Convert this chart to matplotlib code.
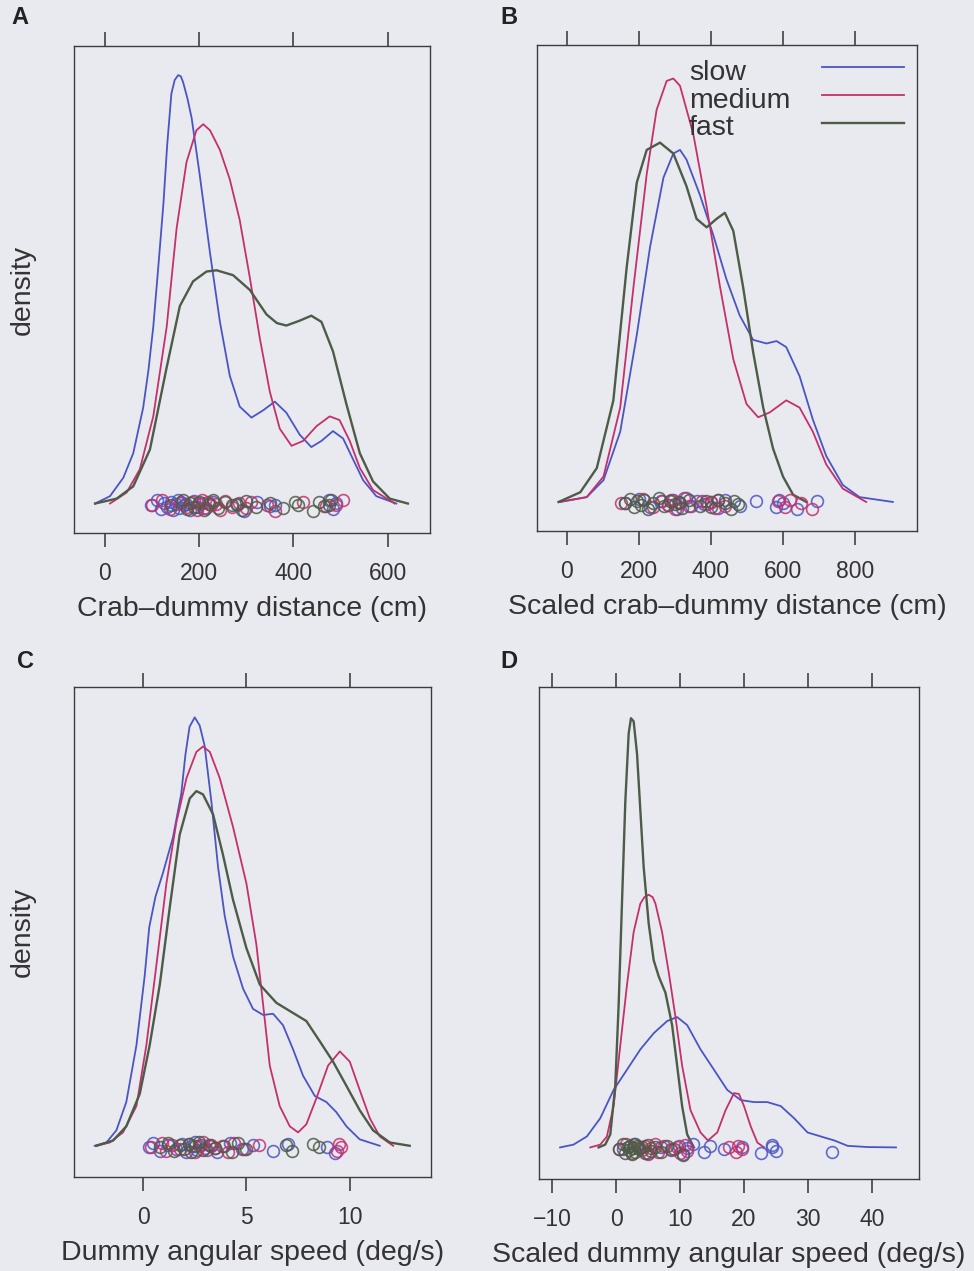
import matplotlib
matplotlib.use('Agg')
import matplotlib.pyplot as plt
from matplotlib.lines import Line2D

plt.rcParams['font.family'] = ['Liberation Sans', 'DejaVu Sans']

# ---------------- data ----------------
groups = ['slow', 'medium', 'fast']

# Panel A: Crab-dummy distance (cm); density curves (arbitrary density units)
a_slow_x = [-21, 10.6, 38.9, 60, 81, 92, 102.5, 113, 124, 132, 141, 148, 155.5, 161, 166, 175, 184, 201, 223, 244, 265, 286, 311, 336, 360.5, 385, 413.6, 438, 459.5, 484, 505.5, 526.7, 548, 576, 618.6]
a_slow_y = [0, 6, 21, 41, 78, 108, 144, 192, 244, 292, 334, 345, 349, 348, 343, 330, 314, 268, 204, 148, 104, 79, 70, 76, 83, 74, 56, 46, 51, 59, 53, 36, 19, 6, 0]
a_med_x = [10.6, 46, 74, 102.5, 131, 152, 173, 194, 208.6, 223, 244, 265, 286, 307.5, 329, 350, 371, 396, 420.6, 449, 477, 498, 519.6, 541, 569, 615]
a_med_y = [0, 9, 28, 71, 144, 224, 278, 304, 309, 304, 288, 264, 231, 184, 134, 91, 61, 47, 51, 63, 71, 68, 51, 29, 11, 0]
a_fast_x = [-21, 24.7, 60, 95.4, 131, 159, 187, 215.6, 237, 272, 307.5, 343, 365, 385, 413.6, 438, 459.5, 484, 512.5, 541, 569, 604.5, 643]
a_fast_y = [0, 4, 14, 44, 111, 161, 181, 189, 190, 186, 174, 154, 147, 145, 149, 153, 148, 124, 81, 41, 18, 4, 0]
a_slow_pts = [97, 110, 118, 125, 132, 140, 145, 150, 155, 158, 162, 168, 172, 180, 188, 195, 205, 215, 230, 280, 295, 322, 350, 360, 475, 485, 490]
a_med_pts = [100, 120, 138, 160, 175, 185, 195, 200, 205, 210, 218, 225, 235, 245, 255, 270, 285, 300, 310, 343, 360, 420, 470, 490, 505]
a_fast_pts = [140, 165, 175, 180, 190, 200, 210, 220, 230, 240, 255, 270, 280, 290, 300, 320, 350, 378, 403, 410, 442, 455, 465, 475, 480]

# Panel B: Scaled crab-dummy distance (cm)
b_slow_x = [-18, 55, 101.6, 148, 194, 231, 268, 295.5, 314, 332, 369, 406, 443, 480, 517, 554, 582, 609, 646, 683, 720, 766, 812.5, 905]
b_slow_y = [0, 4, 18, 58, 138, 211, 268, 288, 291, 283, 254, 221, 184, 154, 134, 131, 133, 128, 104, 68, 38, 14, 4, 0]
b_med_x = [-23, 55, 101.6, 148, 185, 221.6, 249, 277, 295.5, 314, 351, 388, 425, 462, 498.6, 531, 563, 609, 646, 683, 720, 766, 831]
b_med_y = [0, 4, 21, 78, 178, 271, 324, 348, 350, 344, 304, 244, 178, 118, 81, 70, 74, 84, 78, 58, 31, 11, 0]
b_fast_x = [-23, 37, 83, 129, 166, 194, 221.6, 258.5, 295.5, 332, 360, 388, 415.5, 438.6, 462, 489, 517, 545, 572.5, 600, 628, 665]
b_fast_y = [0, 8, 28, 84, 194, 264, 291, 297, 288, 261, 234, 227, 234, 239, 224, 178, 124, 78, 44, 21, 6, 0]
b_slow_pts = [160, 200, 230, 260, 280, 295, 305, 315, 330, 345, 360, 380, 400, 420, 440, 480, 525, 580, 590, 600, 640, 695]
b_med_pts = [150, 210, 240, 265, 280, 290, 300, 310, 325, 340, 375, 390, 400, 410, 420, 440, 585, 605, 620, 650, 680]
b_fast_pts = [160, 175, 185, 195, 205, 215, 225, 240, 255, 270, 285, 300, 310, 320, 340, 370, 385, 400, 420, 440, 455, 465, 475]

# Panel C: Dummy angular speed (deg/s)
c_slow_x = [-2.34, -1.77, -1.29, -0.81, -0.32, 0.08, 0.3, 0.6, 0.97, 1.45, 1.85, 2.05, 2.25, 2.5, 2.74, 2.98, 3.31, 3.63, 3.95, 4.35, 4.84, 5.32, 5.81, 6.29, 6.77, 7.26, 7.74, 8.31, 8.87, 9.35, 9.84, 10.48, 11.45]
c_slow_y = [0, 2.7, 12.7, 36, 82.7, 140, 180, 205, 225, 254, 290, 322, 345, 352.7, 346, 329.3, 282.7, 229.3, 189.3, 156, 129.3, 112.7, 107.7, 108.7, 99.3, 79.3, 57.7, 41, 36, 27.7, 16, 5.3, 0]
c_med_x = [-2.26, -1.61, -0.97, -0.32, 0.16, 0.65, 1.13, 1.61, 2.10, 2.58, 2.90, 3.23, 3.71, 4.35, 5.0, 5.48, 5.81, 6.13, 6.61, 7.10, 7.5, 7.90, 8.39, 8.95, 9.52, 10.0, 10.48, 10.97, 11.45, 12.1]
c_med_y = [0, 2.7, 11, 32.7, 82.7, 149.3, 216, 266, 302.7, 324.3, 328.7, 324.3, 302.7, 262.7, 216, 166, 116, 66, 32.7, 16, 11, 17.7, 39.3, 66, 77.7, 69.3, 46, 22.7, 7.7, 0]
c_fast_x = [-2.26, -1.45, -0.81, -0.16, 0.32, 0.81, 1.29, 1.77, 2.26, 2.58, 2.90, 3.39, 3.87, 4.35, 5.0, 5.65, 6.45, 7.26, 7.90, 8.55, 9.19, 9.84, 10.48, 11.13, 11.94, 12.9]
c_fast_y = [0, 4.3, 16, 42.7, 82.7, 132.7, 196, 256, 286, 292, 289.3, 272.7, 239.3, 202.7, 162.7, 132.7, 117.7, 109.3, 102.7, 86, 69.3, 49.3, 29.3, 12.7, 2.7, 0]
c_slow_pts = [0.3, 0.5, 0.8, 1.2, 1.6, 1.9, 2.1, 2.3, 2.5, 2.6, 2.8, 3.0, 3.3, 3.6, 4.2, 4.8, 5.3, 6.3, 7.0, 8.9, 9.3]
c_med_pts = [0.4, 0.9, 1.1, 1.4, 1.8, 2.2, 2.5, 2.7, 2.9, 3.1, 3.3, 3.5, 3.8, 4.1, 4.4, 4.9, 5.6, 9.4, 9.5, 9.6]
c_fast_pts = [0.8, 1.2, 1.5, 1.8, 2.0, 2.2, 2.3, 2.5, 2.7, 2.9, 3.2, 3.5, 3.9, 4.3, 4.6, 5.0, 6.9, 7.2, 8.2, 8.5]

# Panel D: Scaled dummy angular speed (deg/s)
d_slow_x = [-8.80, -6.70, -4.61, -2.51, -0.42, 1.68, 3.77, 5.86, 7.96, 9.53, 11.10, 13.19, 15.29, 17.38, 19.48, 21.57, 23.66, 25.76, 27.85, 29.95, 32.04, 34.14, 36.23, 39.37, 43.8]
d_slow_y = [0, 2.3, 9, 24, 47.3, 64, 80.7, 94, 104, 107.3, 100.7, 80.7, 64, 47.3, 39, 37.3, 37.3, 34, 24, 12.3, 9, 5.7, 1.3, 0.3, 0]
d_med_x = [-4.08, -2.51, -1.47, -0.42, 0.63, 1.68, 2.72, 3.77, 4.4, 5.08, 5.7, 6.13, 7.17, 8.22, 9.27, 10.31, 11.62, 13.19, 14.35, 15.81, 17.12, 18.43, 19.21, 20.0, 21.05, 22.09, 23.14]
d_med_y = [0, 2.3, 9, 34, 84, 134, 177.3, 200.7, 206, 208, 206, 200.7, 177.3, 144, 107.3, 67.3, 30.7, 12.3, 5.7, 12.3, 30.7, 44.7, 44, 34, 17.3, 4, 0]
d_fast_x = [-2.77, -1.73, -0.94, -0.16, 0.37, 0.89, 1.41, 1.94, 2.30, 2.72, 3.25, 3.77, 4.29, 5.08, 5.86, 6.65, 7.70, 8.74, 9.53, 10.31, 11.10, 12.15]
d_fast_y = [0, 2.3, 10.7, 50.7, 117.3, 200.7, 284, 340.7, 353.3, 350.7, 324, 277.3, 230.7, 184, 154, 140.7, 127.3, 100.7, 67.3, 34, 10.7, 0]
d_slow_pts = [1.0, 3.0, 5.0, 7.0, 8.5, 9.8, 10.5, 11.0, 12.0, 13.7, 14.7, 16.9, 19.7, 22.6, 24.4, 25.0, 24.4, 33.8]
d_med_pts = [0.5, 1.5, 2.5, 3.5, 4.0, 4.5, 5.0, 5.5, 6.0, 6.5, 7.5, 8.5, 9.5, 10.0, 10.8, 11.0, 17.6, 18.7, 19.0, 19.7]
d_fast_pts = [0.5, 1.0, 1.4, 1.8, 2.0, 2.2, 2.4, 2.6, 2.8, 3.0, 3.3, 3.6, 4.0, 4.5, 5.0, 5.5, 6.0, 7.0, 8.0, 9.0, 10.5]

# vertical jitter offsets of the rug circles (density units)
jitter = [-1.0, 2.5, -4.5, 0.5, -2.5, 1.5, -5.5, -0.5, 3.0, -3.5, 1.0, -1.5, 0.0, -5.0, 2.0, -3.0, 0.5, -4.0, 1.5, -1.0, -6.0, 1.0, -2.0]

panels = [
    dict(letter='A', xlabel='Crab\u2013dummy distance (cm)', ticks=[0, 200, 400, 600],
         xlim=(-65.8, 690), ylim=(-24, 372.7), ylab=True,
         curves=[(a_slow_x, a_slow_y), (a_med_x, a_med_y), (a_fast_x, a_fast_y)],
         pts=[a_slow_pts, a_med_pts, a_fast_pts]),
    dict(letter='B', xlabel='Scaled crab\u2013dummy distance (cm)', ticks=[0, 200, 400, 600, 800],
         xlim=(-83, 972), ylim=(-24, 377.7), ylab=False,
         curves=[(b_slow_x, b_slow_y), (b_med_x, b_med_y), (b_fast_x, b_fast_y)],
         pts=[b_slow_pts, b_med_pts, b_fast_pts]),
    dict(letter='C', xlabel='Dummy angular speed (deg/s)', ticks=[0, 5, 10],
         xlim=(-3.34, 13.93), ylim=(-25.7, 377.7), ylab=True,
         curves=[(c_slow_x, c_slow_y), (c_med_x, c_med_y), (c_fast_x, c_fast_y)],
         pts=[c_slow_pts, c_med_pts, c_fast_pts]),
    dict(letter='D', xlabel='Scaled dummy angular speed (deg/s)', ticks=[-10, 0, 10, 20, 30, 40],
         xlim=(-12.1, 47.4), ylim=(-26, 379), ylab=False,
         curves=[(d_slow_x, d_slow_y), (d_med_x, d_med_y), (d_fast_x, d_fast_y)],
         pts=[d_slow_pts, d_med_pts, d_fast_pts]),
]

# ---------------- style / layout ----------------
BG = '#e9e9f0'
colors = ['#4a55c4', '#c4306c', '#4c5c46']
lws = [1.3, 1.3, 1.7]
TXT = '#333333'
W, H = 974, 1271

# axes rectangles in pixels: left, top, right, bottom
rects = [(74, 46, 430, 533), (537, 45, 917, 531), (74, 687, 431, 1177), (539, 687, 919, 1179)]
letter_pos = [(20, 18), (509, 18), (26, 661), (509, 661)]

fig = plt.figure(figsize=(W / 100, H / 100), dpi=100, facecolor=BG)

for p, r, lp in zip(panels, rects, letter_pos):
    l, t, rr, b = r
    ax = fig.add_axes([l / W, 1 - b / H, (rr - l) / W, (b - t) / H])
    ax.set_facecolor(BG)
    for (cx, cy), col, lw in zip(p['curves'], colors, lws):
        ax.plot(cx, cy, color=col, lw=lw, solid_joinstyle='round')
    for pts, col in zip(p['pts'], colors):
        ys = [jitter[i % len(jitter)] for i in range(len(pts))]
        ax.plot(pts, ys, linestyle='none', marker='o', ms=8.5, mfc='none',
                mec=col, mew=1.2, alpha=0.85)
    ax.set_xlim(*p['xlim'])
    ax.set_ylim(*p['ylim'])
    ax.set_xticks(p['ticks'])
    ax.set_yticks([])
    ax.tick_params(axis='x', which='both', direction='out', top=True, bottom=True,
                   labeltop=False, length=10, width=1.1, color='#333333',
                   labelsize=16.5, labelcolor=TXT, pad=11)
    for s in ax.spines.values():
        s.set_color('#3c3c3c')
        s.set_linewidth(1.0)
    ax.set_xlabel(p['xlabel'], fontsize=20.5, color=TXT, labelpad=8)
    if p['ylab']:
        fig.text(23 / W, 1 - ((t + b) / 2) / H, 'density', rotation=90, fontsize=20.5,
                 color=TXT, ha='center', va='center')
    fig.text(lp[0] / W, 1 - lp[1] / H, p['letter'], fontsize=17, fontweight='bold',
             color='#222222', ha='center', va='center')

# legend (panel B)
leg_text_base = [80.5, 107.5, 135]
leg_line_y = [67, 95, 122.5]
for g, col, lw, tb, ly in zip(groups, colors, lws, leg_text_base, leg_line_y):
    fig.text(689 / W, 1 - tb / H, g, fontsize=20.5, color=TXT, ha='left', va='baseline')
    fig.add_artist(Line2D([822 / W, 904 / W], [1 - ly / H, 1 - ly / H], color=col, lw=lw,
                          transform=fig.transFigure))

fig.savefig('out.png', dpi=100, facecolor=BG)
